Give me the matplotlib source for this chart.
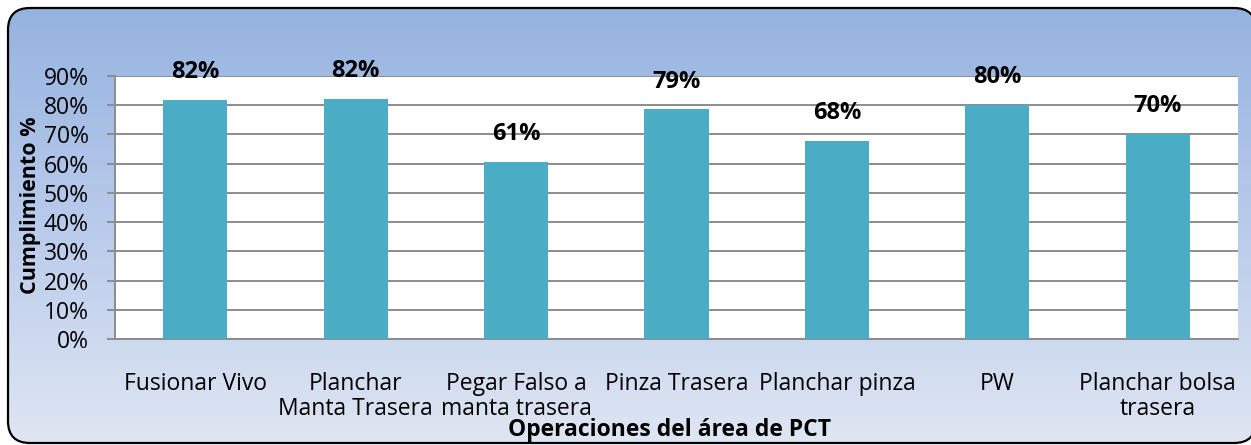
import matplotlib
matplotlib.use('Agg')
import matplotlib.pyplot as plt
import numpy as np
from matplotlib.patches import FancyBboxPatch, Polygon
from matplotlib.colors import LinearSegmentedColormap
from matplotlib.ticker import MultipleLocator, PercentFormatter

plt.rcParams['font.family'] = ['Open Sans', 'DejaVu Sans']

# cumplimiento por operación
operaciones = ['Fusionar Vivo', 'Planchar\nManta Trasera', 'Pegar Falso a\nmanta trasera',
               'Pinza Trasera', 'Planchar pinza', 'PW', 'Planchar bolsa\ntrasera']
cumplimiento = [0.818, 0.823, 0.606, 0.786, 0.677, 0.801, 0.703]

W, H = 1251, 445
fig = plt.figure(figsize=(W / 100, H / 100), dpi=100)
fig.patch.set_facecolor('white')

# fondo con degradado y borde redondeado (coordenadas en píxeles)
bg = fig.add_axes([0, 0, 1, 1])
cmap = LinearSegmentedColormap.from_list('fondo', ['#95b3e0', '#b9cbeb', '#dfe6f3'])
grad = np.linspace(0, 1, 256).reshape(-1, 1)
im = bg.imshow(grad, extent=[8, 1256, 443, 8], aspect='auto', cmap=cmap, zorder=0)
bg.set_xlim(0, W)
bg.set_ylim(H, 0)
bg.axis('off')
caja = FancyBboxPatch((8, 8), 1248, 435, boxstyle='round,pad=0,rounding_size=22')
# las curvas del borde se pasan a segmentos para que el recorte en el canvas sea limpio
verts = caja.get_path().to_polygons(closed_only=False)[0]
marco = Polygon(verts, closed=True, fill=False, ec='black', lw=1.6, zorder=2,
                transform=bg.transData, clip_on=False)
bg.add_patch(marco)
im.set_clip_path(marco)

# gráfico de barras
ax = fig.add_axes([115 / W, (H - 339) / H, (1238 - 115) / W, (339 - 76) / H])
ax.set_facecolor('white')
x = np.arange(len(operaciones))
ax.bar(x, cumplimiento, width=0.4, color='#4bacc6', zorder=3)
ax.set_xlim(-0.5, len(operaciones) - 0.5)
ax.set_ylim(0, 0.9)
ax.yaxis.set_major_locator(MultipleLocator(0.1))
ax.yaxis.set_major_formatter(PercentFormatter(1.0, decimals=0))
ax.grid(axis='y', color='#8c8c8c', lw=1.4, zorder=1)
for s in ['top', 'right']:
    ax.spines[s].set_visible(False)
ax.spines['left'].set_color('#8c8c8c')
ax.spines['bottom'].set_color('#8c8c8c')
ax.spines['left'].set_linewidth(1.4)
ax.spines['bottom'].set_linewidth(1.4)
ax.tick_params(axis='y', length=6, width=1.4, color='#8c8c8c', labelsize=16.5, pad=13)
ax.set_xticks(x)
ax.set_xticklabels(operaciones, fontsize=16.5, linespacing=1.05)
ax.tick_params(axis='x', length=0, pad=24)

for xi, v in zip(x, cumplimiento):
    ax.annotate('{:.0%}'.format(v), (xi, v), xytext=(0, 20), textcoords='offset points',
                ha='center', va='center', fontsize=17, fontweight='bold', zorder=4)

fig.text(31 / W, 1 - 205 / H, 'Cumplimiento %', rotation=90, ha='center', va='center',
         fontsize=15.5, fontweight='bold')
fig.text(670 / W, 1 - 430 / H, 'Operaciones del área de PCT', ha='center', va='center',
         fontsize=16.5, fontweight='bold')

fig.savefig('out.png', dpi=100)
